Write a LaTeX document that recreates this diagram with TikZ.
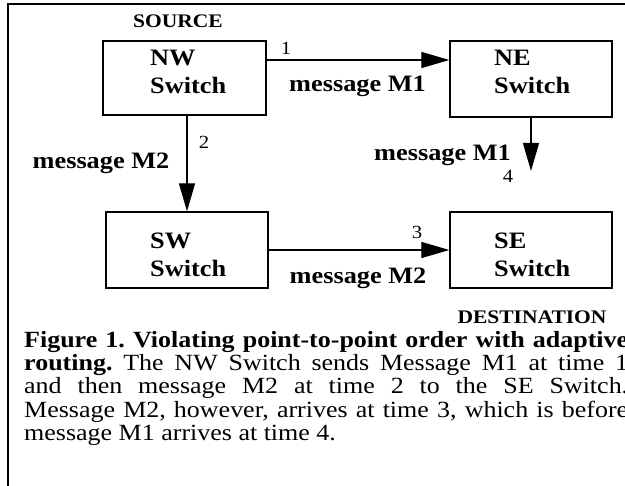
\documentclass[tikz,border=0pt]{standalone}
\usepackage{fontspec}
\setmainfont{Liberation Serif}[FakeStretch=1.12]
\usetikzlibrary{arrows.meta}
\frenchspacing
\begin{document}
\begin{tikzpicture}[x=1pt,y=-1pt,
  box/.style={draw, line width=1.3pt, inner sep=0pt},
  lbl/.style={font=\fontsize{23.5}{28}\selectfont\bfseries, align=left, inner sep=0pt, anchor=north west},
  msg/.style={font=\fontsize{23.5}{26}\selectfont\bfseries, inner sep=0pt},
  num/.style={font=\fontsize{18.5}{20}\selectfont, inner sep=0pt},
  tag/.style={font=\fontsize{19.2}{22}\selectfont\bfseries, inner sep=0pt},
  arr/.style={line width=1.2pt, -{Triangle[length=28pt,width=16pt]}}]
\useasboundingbox (0,0) rectangle (625,486);
\clip (0,0) rectangle (625,486);
\draw[line width=1.4pt] (8,520) -- (8,4) -- (700,4);
% boxes
\node[box, minimum width=163pt, minimum height=74pt] (nw) at (184.5,78) {};
\node[box, minimum width=162pt, minimum height=76pt] (ne) at (531,79) {};
\node[box, minimum width=162pt, minimum height=76pt] (sw) at (187,250) {};
\node[box, minimum width=162pt, minimum height=76pt] (se) at (531,250) {};
\node[lbl] (nwl) at (150,49.5) {NW\\Switch};
\node[lbl] (nel) at (494,49.5) {NE\\Switch};
\node[lbl] (swl) at (150,232.5) {SW\\Switch};
\node[lbl] (sel) at (494,233) {SE\\Switch};
% connectors
\coordinate (m1end) at (531,171);
\draw[arr] ([yshift=18pt]nw.east) -- ([yshift=19pt]ne.west);
\draw[arr] ([xshift=2.5pt]nw.south) -- (sw.north);
\draw[arr] (ne.south) -- (m1end);
\draw[arr] (sw.east) -- (se.west);
% labels
\node[tag] (src) at (178,21) {SOURCE};
\node[tag] (dst) at (532,317.5) {DESTINATION};
\node[msg] (m1a) at (357.5,86) {message M1};
\node[msg] (m2a) at (101,163) {message M2};
\node[msg] (m1b) at (442.5,155) {message M1};
\node[msg] (m2b) at (358,278) {message M2};
\node[num] (t1) at (286,48) {1};
\node[num] (t2) at (204,142) {2};
\node[num] (t3) at (417,232) {3};
\node[num] (t4) at (508,176) {4};
% caption
\node[font=\fontsize{23.2}{23.3}\selectfont, text width=604pt, align=justify, inner sep=0pt, anchor=north west] (cap) at (24,331)
{\textbf{Figure 1. Violating point-to-point order with adaptive}\linebreak
\textbf{routing.} The NW Switch sends Message M1 at time 1\linebreak
and then message M2 at time 2 to the SE Switch.\linebreak
Message M2, however, arrives at time 3, which is before\linebreak
message M1 arrives at time 4.};
\end{tikzpicture}
\end{document}
